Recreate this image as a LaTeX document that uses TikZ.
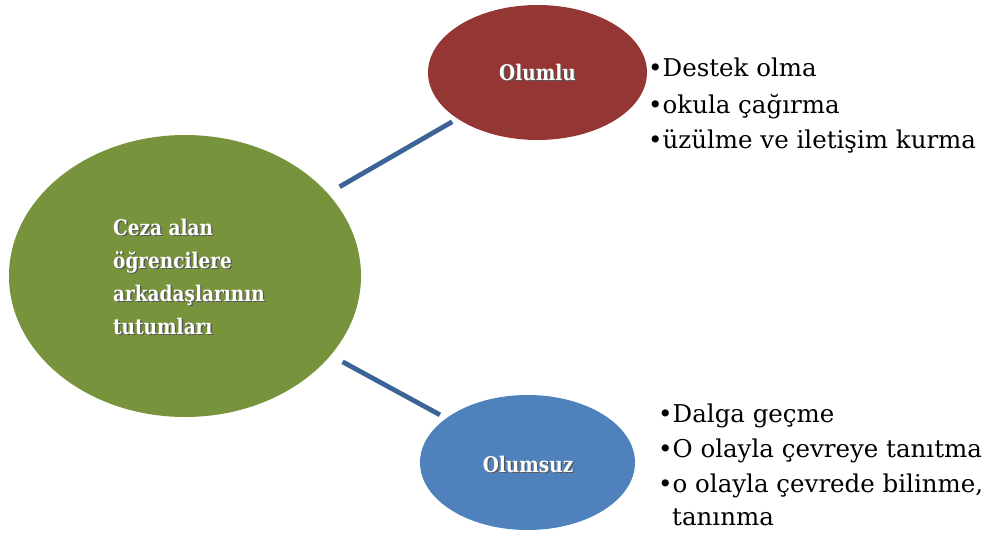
\documentclass[tikz,border=0pt]{standalone}
\usepackage{fontspec}
\setmainfont{DejaVu Serif}
\newfontfamily\listfont{DejaVu Serif}
\newfontfamily\labelfont{DejaVu Serif}[FakeStretch=0.86]
\usetikzlibrary{shapes.geometric}
\definecolor{cred}{HTML}{943634}
\definecolor{cgreen}{HTML}{77933C}
\definecolor{cblue}{HTML}{4F81BD}
\definecolor{cline}{HTML}{3C6496}
\newcommand{\shadowtext}[1]{\makebox[0pt][l]{\hspace{1.4pt}\raisebox{-1.4pt}{\textcolor{black!65}{#1}}}\textcolor{white}{#1}}
\tikzset{
  blob/.style={ellipse, draw=none, inner sep=0},
  conn/.style={draw=cline, line width=4.8pt},
  label/.style={font=\labelfont\fontsize{21.5}{33}\selectfont\bfseries, inner sep=0},
  items/.style={font=\listfont\fontsize{24.5}{35}\selectfont, anchor=base west, inner sep=0}
}
\begin{document}
\begin{tikzpicture}[x=1pt,y=-1pt]
\useasboundingbox (0,0) rectangle (992,535);
\node[blob, fill=cgreen, minimum width=352pt, minimum height=282pt] (c) at (185,276) {};
\node[blob, fill=cred, minimum width=219pt, minimum height=135pt] (p) at (537.5,72.5) {};
\node[blob, fill=cblue, minimum width=215pt, minimum height=135pt] (n) at (527.5,462.5) {};
\draw[conn, shorten <=13.5pt, shorten >=6pt] (c) -- (p);
\draw[conn, shorten <=13.5pt, shorten >=7pt] (c) -- (n);
\node[label, anchor=base west] (c1) at (113,235) {\shadowtext{Ceza alan}};
\node[label, anchor=base west] (c2) at (113,268) {\shadowtext{öğrencilere}};
\node[label, anchor=base west] (c3) at (113,301) {\shadowtext{arkadaşlarının}};
\node[label, anchor=base west] (c4) at (113,334) {\shadowtext{tutumları}};
\node[label, anchor=base] (pt) at (537.5,80) {\shadowtext{Olumlu}};
\node[label, anchor=base] (nt) at (528,472) {\shadowtext{Olumsuz}};
\node[items] (p1) at (648,77) {•Destek olma};
\node[items] (p2) at (648,113) {•okula çağırma};
\node[items] (p3) at (648,148) {•üzülme ve iletişim kurma};
\node[items] (n1) at (658,422) {•Dalga geçme};
\node[items] (n2) at (658,457) {•O olayla çevreye tanıtma};
\node[items] (n3) at (658,492) {•o olayla çevrede bilinme,};
\node[items] (n4) at (672,525) {tanınma};
\end{tikzpicture}
\end{document}
